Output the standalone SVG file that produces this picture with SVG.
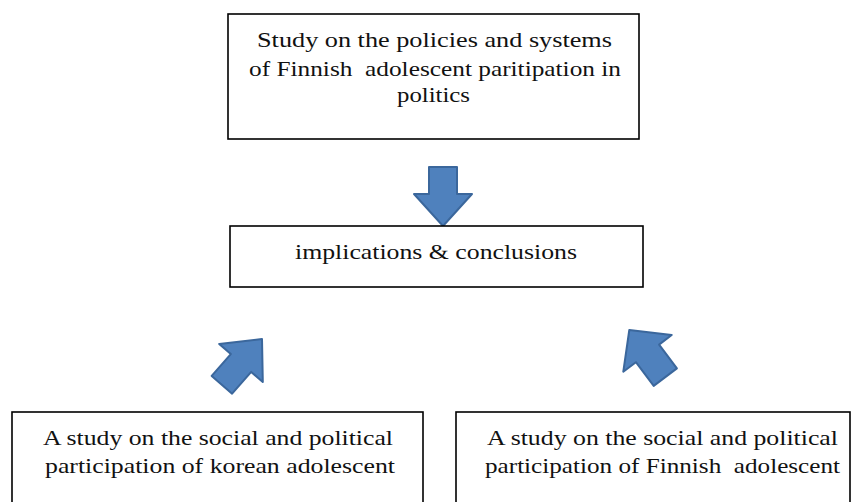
<svg xmlns="http://www.w3.org/2000/svg" width="854" height="502" viewBox="0 0 854 502">
<style>
.box{fill:#fff;stroke:#000;stroke-width:1.6}
.t{font-family:"Liberation Serif","Times New Roman",serif;font-size:22px;fill:#111;text-anchor:middle;white-space:pre}
.arr{fill:#4F81BD;stroke:#3B679C;stroke-width:2;stroke-linejoin:round}
</style>
<rect width="854" height="502" fill="#fff"/>
<g id="connectors">
<path class="arr" d="M429,167 L457,167 L457,194 L472,194 L443,226 L414,194 L429,194 Z"/>
<path class="arr" d="M262,339 L262.8,382.1 L251.2,371.9 L232.1,393.7 L211.7,375.9 L230.8,354.1 L219.2,343.9 Z"/>
<path class="arr" d="M629.3,330 L671.7,335 L659.1,344.6 L676.9,368.4 L653.7,385.9 L635.9,362.2 L623.3,371.7 Z"/>
</g>
<g id="node-finnish-policies">
<rect class="box" x="228" y="14" width="411" height="125"/>
<text class="t" x="434.5" y="47" textLength="355" lengthAdjust="spacingAndGlyphs">Study on the policies and systems</text>
<text class="t" x="435" y="76" textLength="372" lengthAdjust="spacingAndGlyphs">of Finnish  adolescent paritipation in</text>
<text class="t" x="433.5" y="102" textLength="73" lengthAdjust="spacingAndGlyphs">politics</text>
</g>
<g id="node-implications">
<rect class="box" x="230" y="226" width="413" height="61"/>
<text class="t" x="436" y="259" textLength="282" lengthAdjust="spacingAndGlyphs">implications &amp; conclusions</text>
</g>
<g id="node-korean">
<rect class="box" x="12" y="412" width="411" height="100"/>
<text class="t" x="218" y="445" textLength="350" lengthAdjust="spacingAndGlyphs">A study on the social and political</text>
<text class="t" x="220" y="473" textLength="350" lengthAdjust="spacingAndGlyphs">participation of korean adolescent</text>
</g>
<g id="node-finnish">
<rect class="box" x="456" y="412" width="394" height="100"/>
<text class="t" x="662.5" y="445" textLength="351" lengthAdjust="spacingAndGlyphs">A study on the social and political</text>
<text class="t" x="662.5" y="473" textLength="355" lengthAdjust="spacingAndGlyphs">participation of Finnish  adolescent</text>
</g>
</svg>
